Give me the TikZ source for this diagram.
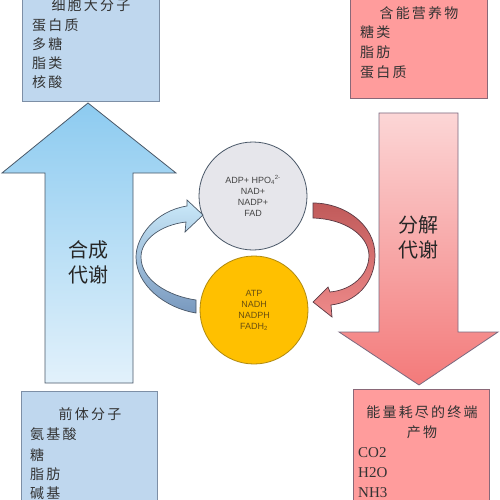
\documentclass[tikz,border=0pt]{standalone}
\usepackage{fontspec}
\setmainfont{Liberation Serif}
\newfontfamily\cjk[LetterSpace=16]{Noto Sans CJK SC}
\newfontfamily\cjkbig{Noto Sans CJK SC}
\newfontfamily\lsans{Liberation Sans}
\definecolor{boxblue}{HTML}{BFD7EE}
\definecolor{boxblueline}{HTML}{7D8FA6}
\definecolor{boxpink}{HTML}{FF9C9C}
\definecolor{boxpinkline}{HTML}{8A6878}
\definecolor{txt}{HTML}{333333}
\definecolor{edge}{HTML}{4A5868}
\definecolor{upTop}{HTML}{8DCBF0}
\definecolor{upBot}{HTML}{E2F1FB}
\definecolor{dnTop}{HTML}{FCD6D6}
\definecolor{dnBot}{HTML}{F37A7A}
\definecolor{dnLine}{HTML}{7A6A80}
\definecolor{grayfill}{HTML}{E6E6EB}
\definecolor{graytxt}{HTML}{444444}
\definecolor{orfill}{HTML}{FFC000}
\definecolor{orline}{HTML}{B08A10}
\definecolor{ortxt}{HTML}{6A5010}
\definecolor{cbTop}{HTML}{CBEAFA}
\definecolor{cbBot}{HTML}{7898BE}
\definecolor{crTop}{HTML}{C05A5A}
\definecolor{crBot}{HTML}{EE8A8A}
\definecolor{crLine}{HTML}{5A3A44}
\tikzset{
  bluebox/.style={fill=boxblue,draw=boxblueline,line width=1pt},
  pinkbox/.style={fill=boxpink,draw=boxpinkline,line width=1pt},
  boxtitle/.style={font=\cjk\fontsize{14}{18}\selectfont,text=txt,anchor=center,inner sep=0pt},
  boxitem/.style={font=\cjk\fontsize{14}{18}\selectfont,text=txt,anchor=west,inner sep=0pt},
  latitem/.style={font=\fontsize{15}{18}\selectfont,text=txt,anchor=west,inner sep=0pt},
  bigtext/.style={font=\cjkbig\fontsize{20}{25}\selectfont,text=black!85,align=center,inner sep=0pt},
  circnode/.style={circle,minimum size=108pt,line width=0.8pt,inner sep=0pt,
    font=\lsans\fontsize{9}{11}\selectfont,align=center},
}
\begin{document}
\begin{tikzpicture}[x=1pt,y=-1pt]
\useasboundingbox (0,0) rectangle (500,500);
\clip (0,0) rectangle (500,500);
\fill[white] (0,0) rectangle (500,500);

% boxes
\draw[bluebox] (22,-10) rectangle (159,102);
\node[boxtitle] (t1) at (91,5) {细胞大分子};
\node[boxitem] (a1) at (32,25) {蛋白质};
\node[boxitem] (a2) at (32,44) {多糖};
\node[boxitem] (a3) at (32,63) {脂类};
\node[boxitem] (a4) at (32,82) {核酸};

\draw[pinkbox] (350,-10) rectangle (487,99);
\node[boxtitle] (t2) at (419,13) {含能营养物};
\node[boxitem] (b1) at (360,32) {糖类};
\node[boxitem] (b2) at (360,52) {脂肪};
\node[boxitem] (b3) at (360,72) {蛋白质};

\draw[bluebox] (21,391) rectangle (157,510);
\node[boxtitle] (t3) at (90,414) {前体分子};
\node[boxitem] (c1) at (30,434) {氨基酸};
\node[boxitem] (c2) at (30,455) {糖};
\node[boxitem] (c3) at (30,474) {脂肪};
\node[boxitem] (c4) at (30,493) {碱基};

\draw[pinkbox] (353,389) rectangle (489,510);
\node[boxtitle] (t4) at (422,412) {能量耗尽的终端};
\node[boxtitle] (t5) at (422,432) {产物};
\node[latitem] (d1) at (358,453) {CO2};
\node[latitem] (d2) at (358,473) {H2O};
\node[latitem] (d3) at (358,493) {NH3};

% big arrows
\draw[edge,line width=0.8pt,top color=upTop,bottom color=upBot] (45,383) -- (45,173) -- (2,173) -- (88,103) -- (176,173) -- (133,173) -- (133,383) -- cycle;
\node[bigtext] (up) at (88,262) {合成\\代谢};

\draw[dnLine,line width=0.8pt,top color=dnTop,bottom color=dnBot] (379,113) -- (458,113) -- (458,332) -- (498,332) -- (419,385) -- (339,332) -- (379,332) -- cycle;
\node[bigtext] (down) at (418,237) {分解\\代谢};

% circles
\node[circnode,fill=grayfill,draw=edge,text=graytxt] (g) at (253,196)
  {ADP+ HPO\textsubscript{4}\textsuperscript{2-}\\NAD+\\NADP+\\FAD};
\node[circnode,fill=orfill,draw=orline,text=ortxt] (o) at (254,310)
  {ATP\\NADH\\NADPH\\FADH\textsubscript{2}};

% curved blue arrow
\draw[edge,line width=0.7pt,top color=cbTop,bottom color=cbBot]
  (187,206) .. controls (155,211) and (136,237) .. (136,257)
  .. controls (136,285) and (165,308) .. (196,313)
  -- (196,300)
  .. controls (168,296) and (141,280) .. (141,257)
  .. controls (141,240) and (160,225) .. (186,222)
  -- (185,232) -- (203,215) -- (187,200) -- cycle;

% curved red arrow
\draw[crLine,line width=0.7pt,top color=crTop,bottom color=crBot]
  (313,203) .. controls (345,203) and (375,225) .. (375,255)
  .. controls (375,283) and (356,302) .. (331,305)
  -- (332,317) -- (313,302) -- (328,287) -- (330,292)
  .. controls (352,290) and (369,275) .. (369,255)
  .. controls (368,235) and (345,219) .. (313,218) -- cycle;
\end{tikzpicture}
\end{document}
